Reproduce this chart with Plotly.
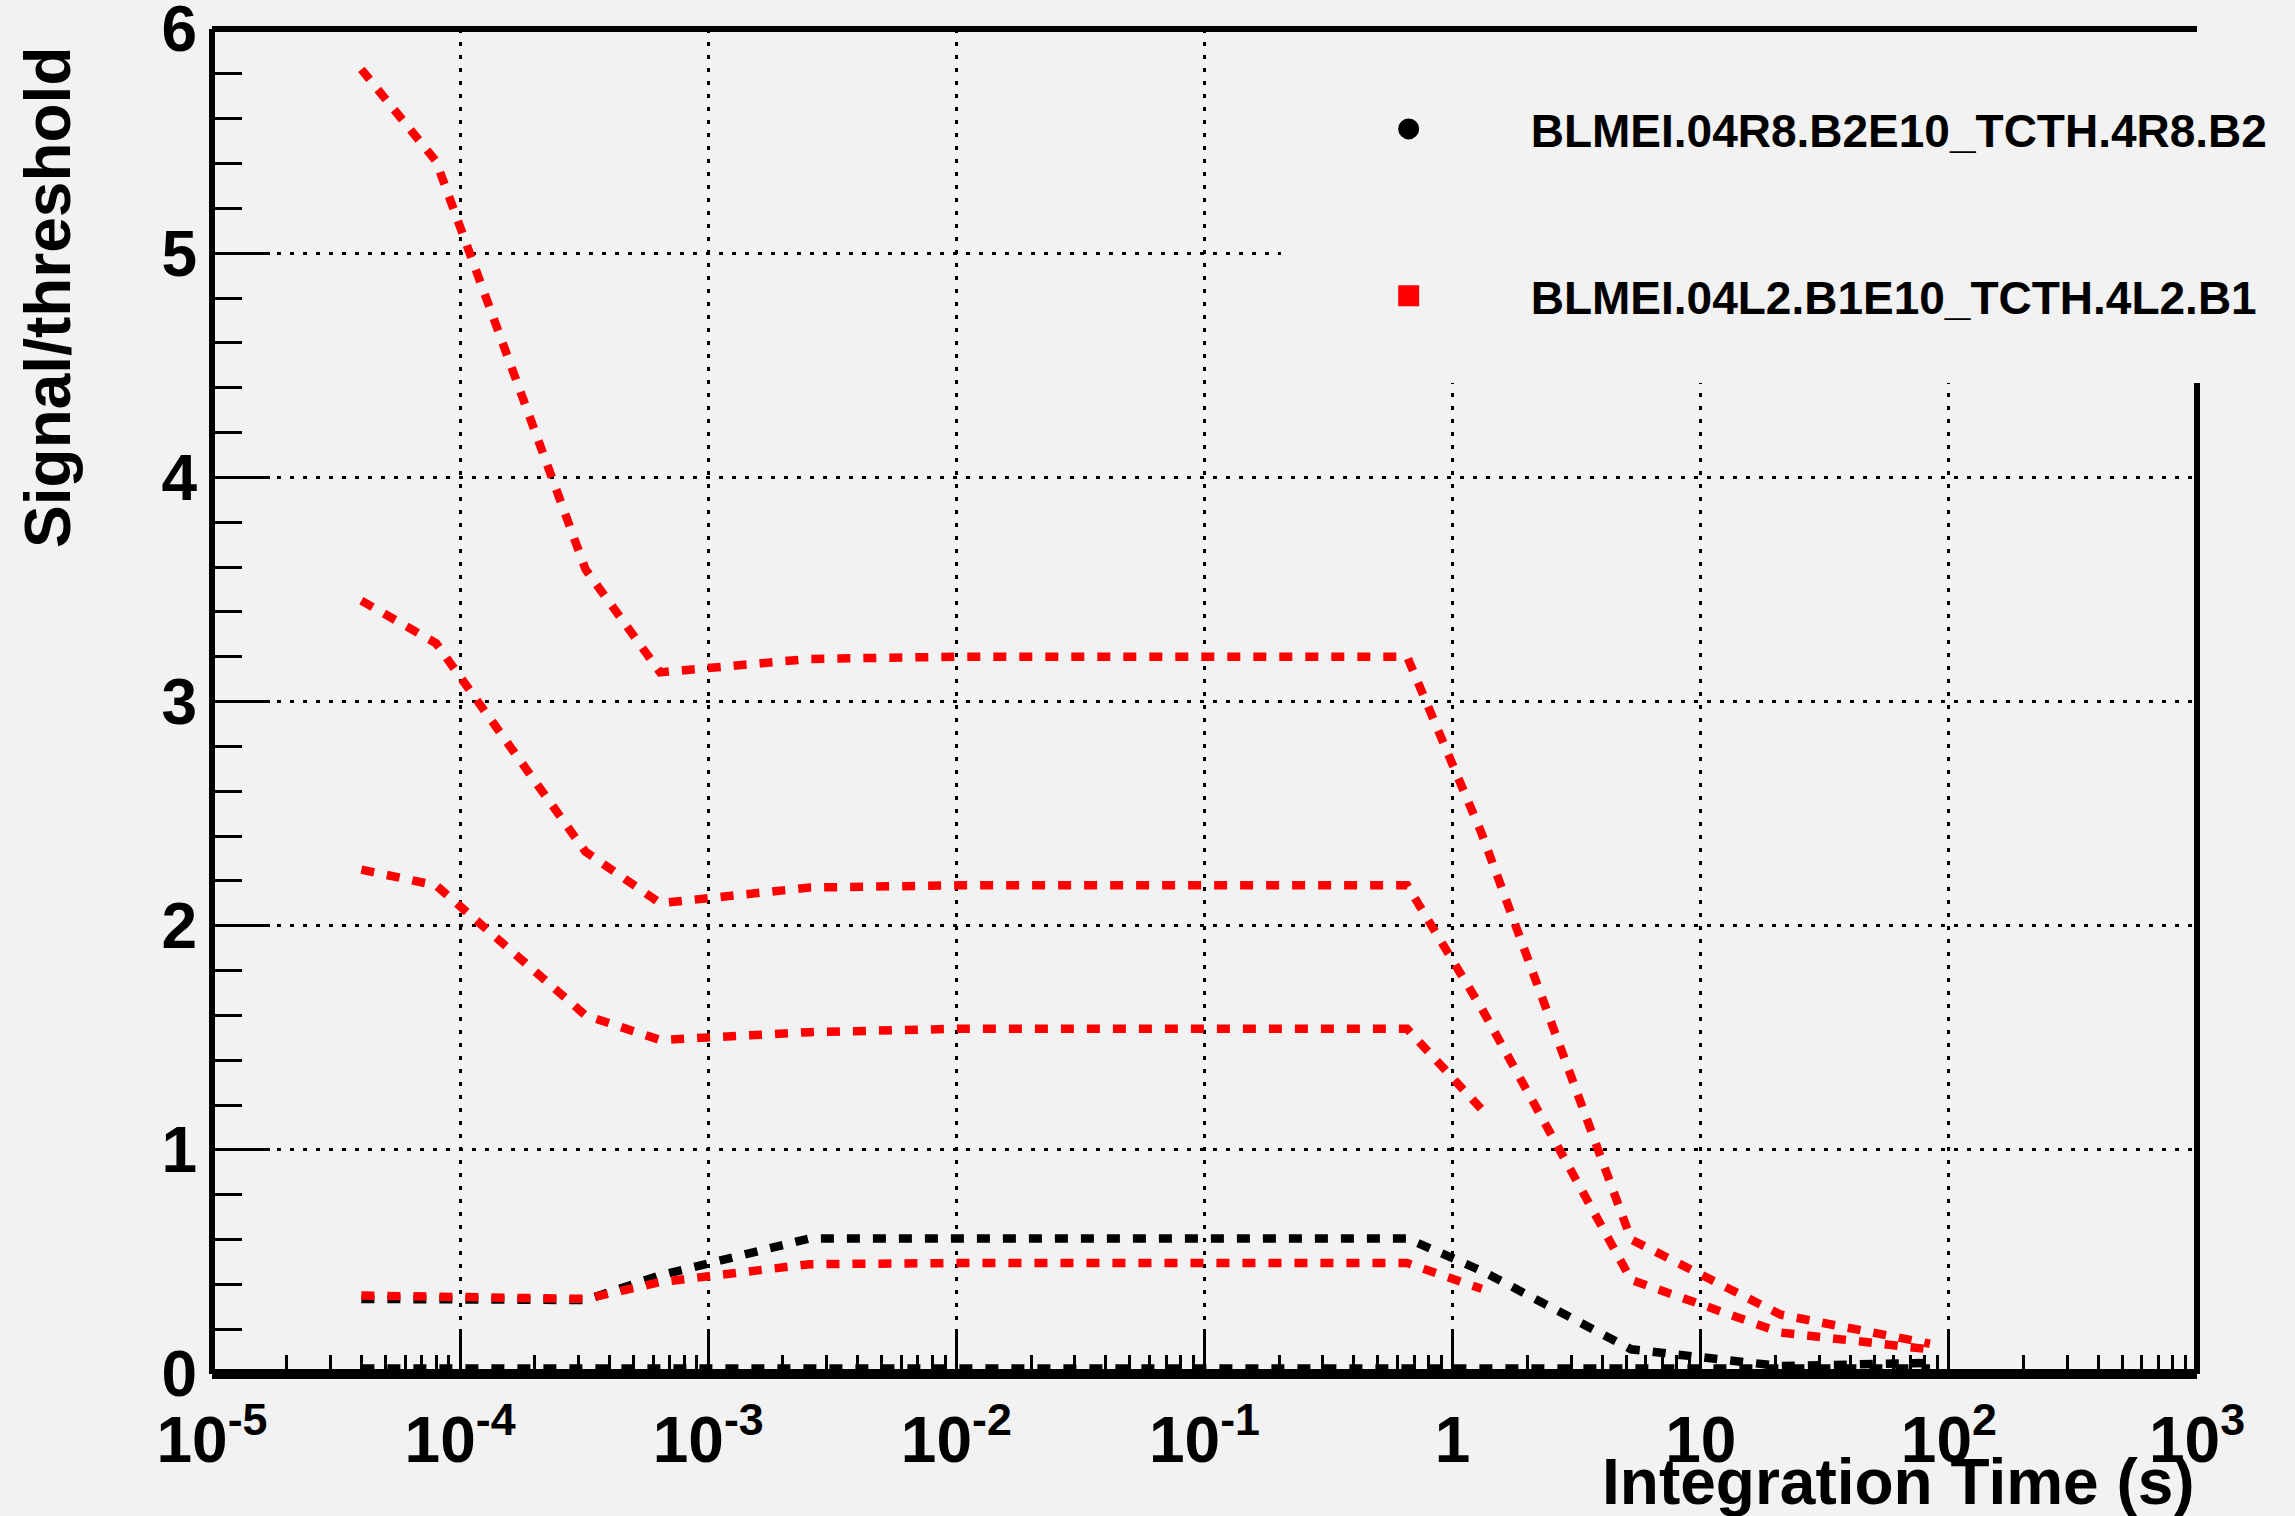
import plotly.graph_objects as go

# Integration times (running sums) in seconds
t_rs = [4e-5, 8e-5, 3.2e-4, 6.4e-4, 2.56e-3, 1.024e-2, 8.192e-2, 0.65536, 1.31072, 5.24288, 20.97152, 83.88608]

# Black series (BLMEI.04R8.B2E10_TCTH.4R8.B2)
black_main = [0.335, 0.335, 0.33, 0.44, 0.605, 0.605, 0.605, 0.605, 0.46, 0.11, 0.035, 0.05]
black_low = [0.025, 0.025, 0.025, 0.025, 0.025, 0.025, 0.025, 0.025, 0.025, 0.025, 0.025, 0.025]

# Red series (BLMEI.04L2.B1E10_TCTH.4L2.B1)
red_1 = [5.82, 5.41, 3.59, 3.13, 3.19, 3.20, 3.20, 3.20, 2.41, 0.60, 0.265, 0.135]
red_2 = [3.45, 3.26, 2.33, 2.10, 2.17, 2.18, 2.18, 2.18, 1.63, 0.42, 0.185, 0.11]
red_3 = [2.25, 2.18, 1.60, 1.49, 1.525, 1.54, 1.54, 1.54, 1.18]
red_4 = [0.35, 0.345, 0.335, 0.41, 0.49, 0.495, 0.495, 0.495, 0.38]

legend_names = ["BLMEI.04R8.B2E10_TCTH.4R8.B2", "BLMEI.04L2.B1E10_TCTH.4L2.B1"]

x_tickvals = [1e-5, 1e-4, 1e-3, 1e-2, 1e-1, 1, 10, 100, 1000]
x_ticktext = ["10<sup>-5</sup>", "10<sup>-4</sup>", "10<sup>-3</sup>", "10<sup>-2</sup>",
              "10<sup>-1</sup>", "1", "10", "10<sup>2</sup>", "10<sup>3</sup>"]
x_minor = [m * 10.0 ** k for k in range(-5, 3) for m in range(2, 10)]
y_tickvals = [0, 1, 2, 3, 4, 5, 6]

FONT = "Liberation Sans, Arial, Helvetica, sans-serif"
BG = "#f2f2f2"
DASH = "13px,13px"
LW = 8.5

fig = go.Figure()

def add_line(y, color):
    xs = t_rs[:len(y)]
    fig.add_trace(go.Scatter(x=xs, y=y, mode="lines", showlegend=False,
                             line=dict(color=color, width=LW, dash=DASH),
                             hoverinfo="skip"))

add_line(black_low, "black")
add_line(black_main, "black")
add_line(red_4, "red")
add_line(red_3, "red")
add_line(red_2, "red")
add_line(red_1, "red")

# legend entries
fig.add_trace(go.Scatter(x=[None], y=[None], mode="markers", name=legend_names[0],
                         legendgroup="a",
                         marker=dict(symbol="circle", color="black", size=26,
                                     line=dict(color="black", width=5))))
fig.add_trace(go.Scatter(x=[None], y=[None], mode="markers", name=legend_names[1],
                         legendgroup="b",
                         marker=dict(symbol="square", color="red", size=26,
                                     line=dict(color="red", width=5))))

L, R, T, B = 212, 98, 29, 142

fig.update_layout(
    width=2295, height=1516,
    margin=dict(l=L, r=R, t=T, b=B, pad=0, autoexpand=False),
    paper_bgcolor=BG, plot_bgcolor=BG,
    font=dict(family=FONT, color="black", size=46, weight="bold"),
    showlegend=True,
    legend=dict(x=0.5414, xanchor="left", y=0.9528, yanchor="top",
                bgcolor="rgba(0,0,0,0)", borderwidth=0,
                font=dict(family=FONT, size=46, color="black", weight="bold"),
                itemwidth=234, traceorder="grouped", tracegroupgap=104,
                itemclick=False, itemdoubleclick=False),
    xaxis=dict(type="log", range=[-5, 3], showline=False, zeroline=False,
               automargin=False,
               tickmode="array", tickvals=x_tickvals, ticktext=x_ticktext,
               ticks="inside", ticklen=44, tickwidth=3, tickcolor="black",
               tickfont=dict(family=FONT, size=64, color="black", weight="bold"),
               showgrid=True, gridcolor="black", gridwidth=3, griddash="4px,9px",
               minor=dict(tickmode="array", tickvals=x_minor, ticks="inside",
                          ticklen=19, tickwidth=3, tickcolor="black", showgrid=False),
               ticklabelstandoff=23, ticklabeloverflow="allow"),
    yaxis=dict(range=[0, 6], showline=False, zeroline=False,
               automargin=False,
               tickmode="array", tickvals=y_tickvals,
               ticks="inside", ticklen=58, tickwidth=3, tickcolor="black",
               tickfont=dict(family=FONT, size=64, color="black", weight="bold"),
               showgrid=True, gridcolor="black", gridwidth=3, griddash="4px,9px",
               minor=dict(dtick=0.2, ticks="inside", ticklen=30, tickwidth=3,
                          tickcolor="black", showgrid=False),
               ticklabelstandoff=14, ticklabeloverflow="allow"),
)

plot_h = 1516 - T - B
cover_y0 = (1374 - 383) / plot_h
cover_x0 = (1281 - L) / (2295 - L - R)

shapes = [
    # legend area (covers grid and frame like the reference)
    dict(type="rect", xref="paper", yref="paper", x0=cover_x0, x1=1.06, y0=cover_y0, y1=1.0,
         fillcolor=BG, line=dict(width=0), layer="above"),
    # frame
    dict(type="line", xref="paper", yref="paper", x0=0, x1=0, y0=0, y1=1,
         line=dict(color="black", width=6), layer="above"),
    dict(type="line", xref="paper", yref="paper", x0=0, x1=1, y0=1, y1=1,
         line=dict(color="black", width=6), layer="above"),
    dict(type="line", xref="paper", yref="paper", x0=1, x1=1, y0=0, y1=cover_y0,
         line=dict(color="black", width=6), layer="above"),
    dict(type="line", xref="paper", yref="paper", x0=0, x1=1, y0=0, y1=0,
         line=dict(color="black", width=10), layer="above"),
]
fig.update_layout(shapes=shapes)

fig.add_annotation(text="Integration Time (s)", xref="paper", yref="paper",
                   x=1.0, xanchor="right", y=-0.0805, yanchor="middle", showarrow=False,
                   font=dict(family=FONT, size=64, color="black", weight="bold"))
fig.add_annotation(text="Signal/threshold", xref="paper", yref="paper", textangle=-90,
                   x=-0.083, xanchor="center", y=0.988, yanchor="top", showarrow=False,
                   font=dict(family=FONT, size=64, color="black", weight="bold"))

fig.write_html("out.html", config={"displayModeBar": False})
